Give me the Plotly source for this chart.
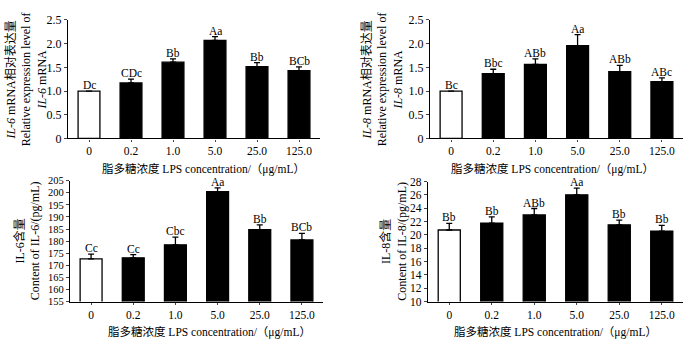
import plotly.graph_objects as go

W, H = 700, 347

# LPS concentrations (category labels)
doses = ["0", "0.2", "1.0", "5.0", "25.0", "125.0"]

# IL-6 mRNA relative expression
il6_mrna = [1.00, 1.17, 1.61, 2.07, 1.515, 1.43]
il6_mrna_err = [0.0, 0.08, 0.07, 0.08, 0.085, 0.08]
il6_mrna_sig = ["Dc", "CDc", "Bb", "Aa", "Bb", "BCb"]

# IL-8 mRNA relative expression
il8_mrna = [1.00, 1.37, 1.56, 1.96, 1.41, 1.20]
il8_mrna_err = [0.0, 0.09, 0.12, 0.23, 0.13, 0.08]
il8_mrna_sig = ["Bc", "Bbc", "ABb", "Aa", "ABb", "ABc"]

# IL-6 content (pg/mL)
il6_content = [172.7, 173.1, 178.5, 200.5, 184.8, 180.5]
il6_content_err = [1.9, 1.3, 3.2, 1.5, 1.9, 2.7]
il6_content_sig = ["Cc", "Cc", "Cbc", "Aa", "Bb", "BCb"]

# IL-8 content (pg/mL)
il8_content = [20.75, 21.76, 23.0, 26.03, 21.52, 20.56]
il8_content_err = [1.0, 0.96, 0.97, 1.0, 0.72, 0.87]
il8_content_sig = ["Bb", "Bb", "ABb", "Aa", "Bb", "Bb"]

FONT = "Liberation Serif, Times New Roman, Noto Sans CJK SC, serif"
XTITLE = "脂多糖浓度 LPS concentration/（μg/mL）"

panels = [
    dict(vals=il6_mrna, err=il6_mrna_err, sig=il6_mrna_sig,
         px=(68, 320), py=(13.5, 137), yr=(0, 2.5), dt=0.5, fmt=".1f", yfs=12,
         ytitle="<i>IL-6</i> mRNA相对表达量<br>Relative expression level of<br><i>IL-6</i> mRNA",
         ytx=26, xtx=203, xty=168.5),
    dict(vals=il8_mrna, err=il8_mrna_err, sig=il8_mrna_sig,
         px=(430, 683), py=(13.5, 137), yr=(0, 2.5), dt=0.5, fmt=".1f", yfs=12,
         ytitle="<i>IL-8</i> mRNA相对表达量<br>Relative expression level of<br><i>IL-8</i> mRNA",
         ytx=382, xtx=552, xty=168.5),
    dict(vals=il6_content, err=il6_content_err, sig=il6_content_sig,
         px=(70, 323), py=(181, 307), yr=(155, 205), dt=5, fmt="d", yfs=10.5,
         ytitle="IL-6含量<br>Content of IL-6/(pg/mL)",
         ytx=27, xtx=209, xty=339),
    dict(vals=il8_content, err=il8_content_err, sig=il8_content_sig,
         px=(428, 683), py=(182, 307), yr=(10, 28), dt=2, fmt="d", yfs=11.5,
         ytitle="IL-8含量<br>Content of IL-8/(pg/mL)",
         ytx=394, xtx=555, xty=339),
]

fig = go.Figure()
annotations = []
layout = {}

for i, p in enumerate(panels, start=1):
    xa = "x" if i == 1 else f"x{i}"
    ya = "y" if i == 1 else f"y{i}"
    colors = ["white"] + ["black"] * (len(doses) - 1)
    fig.add_trace(go.Bar(
        x=list(range(len(doses))), y=p["vals"], xaxis=xa, yaxis=ya,
        width=0.52,
        marker=dict(color=colors, line=dict(color="black", width=1.3)),
        error_y=dict(type="data", symmetric=False, array=p["err"],
                     arrayminus=[0] * len(doses), color="black",
                     thickness=1.3, width=3),
        showlegend=False, hoverinfo="skip",
    ))
    x0, x1 = p["px"]
    y0, y1 = p["py"]
    layout[f"xaxis{'' if i == 1 else i}"] = dict(
        domain=[x0 / W, x1 / W], anchor=ya, range=[-0.5, 5.5],
        tickmode="array", tickvals=list(range(len(doses))), ticktext=doses,
        tickson="boundaries", ticks="outside", ticklen=2, tickwidth=1,
        showline=True, linecolor="black", linewidth=1.4,
        showgrid=False, zeroline=False,
        tickfont=dict(family=FONT, size=11.5, color="black"),
    )
    lo, hi = p["yr"]
    n = round((hi - lo) / p["dt"])
    tv = [lo + k * p["dt"] for k in range(n + 1)]
    tt = [format(v, ".1f") if p["fmt"] == ".1f" else str(int(round(v))) for v in tv]
    if p["fmt"] == ".1f":
        tt[0] = "0"
    layout[f"yaxis{'' if i == 1 else i}"] = dict(
        domain=[1 - y1 / H, 1 - y0 / H], anchor=xa, range=[lo, hi],
        tickmode="array", tickvals=tv, ticktext=tt,
        ticks="outside", ticklen=3, tickwidth=1,
        showline=True, linecolor="black", linewidth=1.4,
        showgrid=False, zeroline=False,
        tickfont=dict(family=FONT, size=p["yfs"], color="black"),
    )
    for k, (v, e, s) in enumerate(zip(p["vals"], p["err"], p["sig"])):
        annotations.append(dict(
            x=k, y=v + e, xref=xa, yref=ya, text=s, showarrow=False,
            yanchor="bottom", yshift=-2,
            font=dict(family=FONT, size=11.5, color="black"),
        ))
    annotations.append(dict(
        x=p["ytx"] / W, y=1 - (y0 + y1) / 2 / H, xref="paper", yref="paper",
        text=p["ytitle"], showarrow=False, textangle=-90,
        xanchor="center", yanchor="middle",
        font=dict(family=FONT, size=12, color="black"),
    ))
    annotations.append(dict(
        x=p["xtx"] / W, y=1 - p["xty"] / H, xref="paper", yref="paper",
        text=XTITLE, showarrow=False, xanchor="center", yanchor="middle",
        font=dict(family=FONT, size=11.5, color="black"),
    ))

fig.update_layout(
    width=W, height=H, margin=dict(l=0, r=0, t=0, b=0),
    paper_bgcolor="white", plot_bgcolor="white",
    bargap=0.5, annotations=annotations, **layout,
)

fig.write_html("out.html")
